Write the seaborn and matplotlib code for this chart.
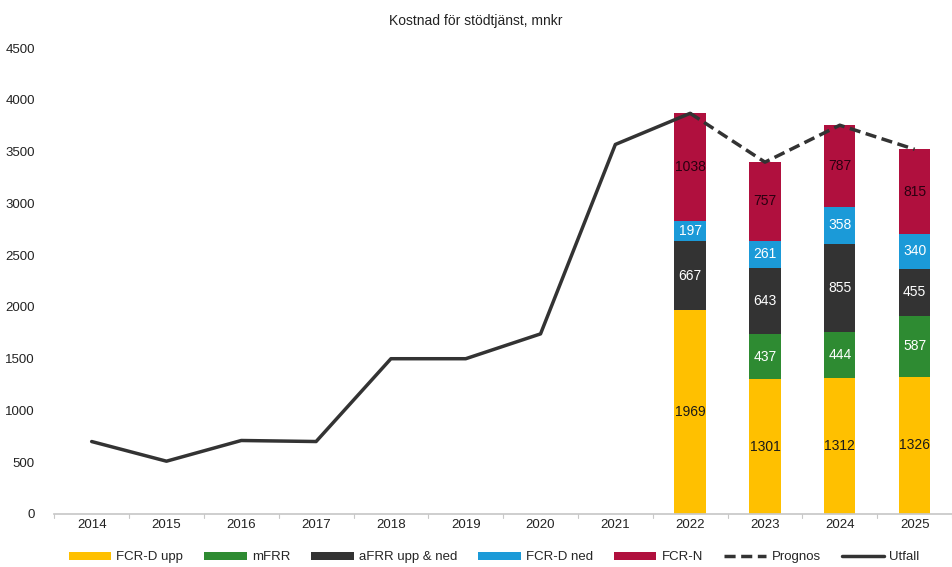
import numpy as np
import pandas as pd
import seaborn as sns
import matplotlib.pyplot as plt

# Data
years = ["2014", "2015", "2016", "2017", "2018", "2019", "2020", "2021",
         "2022", "2023", "2024", "2025"]
utfall = [700, 510, 710, 700, 1500, 1500, 1740, 3570, 3871]
bar_years = ["2022", "2023", "2024", "2025"]
fcrd_upp = [1969, 1301, 1312, 1326]
mfrr = [0, 437, 444, 587]
afrr = [667, 643, 855, 455]
fcrd_ned = [197, 261, 358, 340]
fcrn = [1038, 757, 787, 815]

series = ["FCR-D upp", "mFRR", "aFRR upp & ned", "FCR-D ned", "FCR-N"]
colors = ["#FFC000", "#2E8B32", "#333333", "#1B9AD8", "#B0103E"]
text_colors = ["#1a1a1a", "white", "white", "white", "#2a0010"]

sns.set_theme(style="white")
plt.rcParams["font.family"] = ["Liberation Sans", "DejaVu Sans"]

df = pd.DataFrame({"year": bar_years, "FCR-D upp": fcrd_upp, "mFRR": mfrr,
                   "aFRR upp & ned": afrr, "FCR-D ned": fcrd_ned, "FCR-N": fcrn})
cum = df[series].cumsum(axis=1)
prognos = cum["FCR-N"].tolist()

fig = plt.figure(figsize=(9.52, 5.67), dpi=100)
ax = fig.add_axes([0.057, 0.0935, 0.943, 0.8215])

# Stacked bars: draw cumulative totals from the top layer down
for name, color in reversed(list(zip(series, colors))):
    sns.barplot(x=df["year"], y=cum[name], order=years, color=color,
                width=0.42, saturation=1, linewidth=0, ax=ax, label=name)

# Segment labels
pos = {y: i for i, y in enumerate(years)}
for name, tc in zip(series, text_colors):
    for yr, top, val in zip(bar_years, cum[name], df[name]):
        if val > 0:
            ax.text(pos[yr], top - val / 2, str(val), ha="center", va="center",
                    fontsize=10, color=tc)

# Lines
x_utfall = np.arange(len(utfall))
ax.plot(x_utfall, utfall, color="#333333", lw=2.5, label="Utfall",
        solid_capstyle="round")
x_prog = [pos[y] for y in bar_years]
ax.plot(x_prog, prognos, color="#333333", lw=2.5, ls=(0, (3.2, 1.6)),
        label="Prognos")

ax.set_xlim(-0.5, len(years) - 0.5)
ax.set_ylim(0, 4500)
ax.set_yticks(np.arange(0, 4501, 500))
ax.set_xlabel("")
ax.set_ylabel("")
ax.tick_params(axis="both", labelsize=9.5, colors="#222222", length=0)
ax.tick_params(axis="y", pad=14)
for side in ["top", "right", "left"]:
    ax.spines[side].set_visible(False)
ax.spines["bottom"].set_color("#c8c8c8")
# small ticks between categories
for b in np.arange(-0.5, len(years), 1.0):
    ax.plot([b, b], [0, -40], color="#c8c8c8", lw=0.8, clip_on=False)

fig.suptitle("Kostnad för stödtjänst, mnkr", y=0.975, fontsize=10, color="#222222")

handles, labels = ax.get_legend_handles_labels()
order = series + ["Prognos", "Utfall"]
hmap = dict(zip(labels, handles))
ax.legend([hmap[k] for k in order], order, loc="upper center",
          bbox_to_anchor=(0.49, -0.055), ncol=7, frameon=False, fontsize=9.5,
          handlelength=3.2, handleheight=0.55, columnspacing=1.6, handletextpad=0.4)

fig.savefig("out.png", dpi=100)
